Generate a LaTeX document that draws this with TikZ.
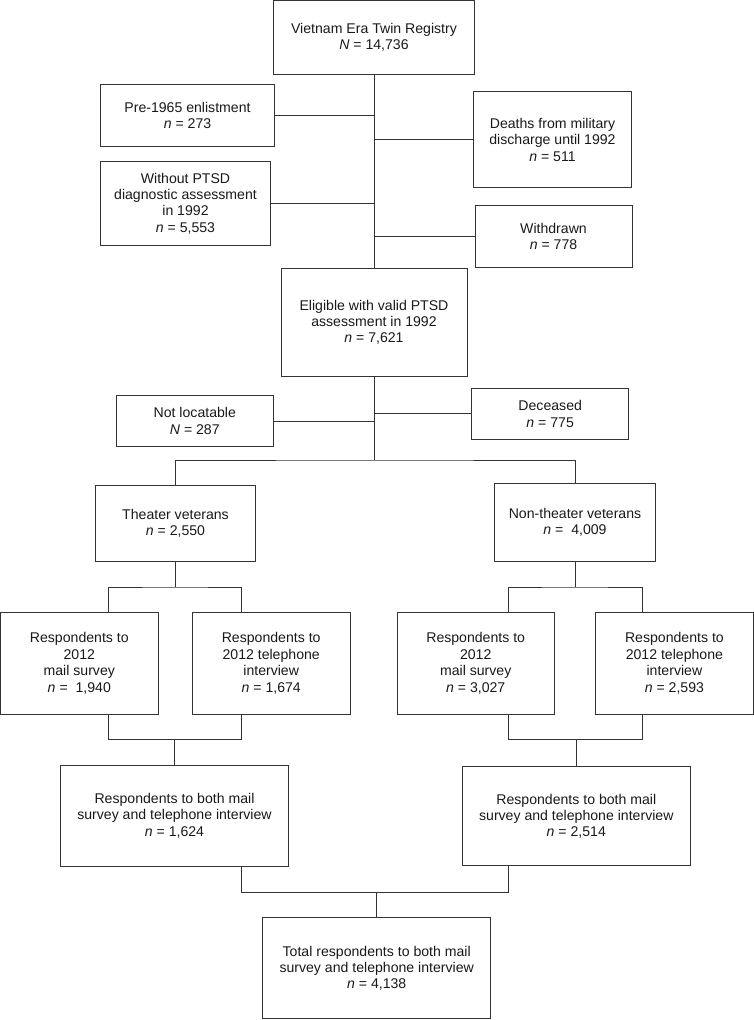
\documentclass[tikz,border=0pt]{standalone}
\usepackage{fontspec}
\setmainfont{Liberation Sans}
\usepackage{xcolor}
\usepackage{tikz}
\usetikzlibrary{positioning}

\begin{document}
\begin{tikzpicture}[x=1pt, y=-1pt,
    box/.style={draw=black!80, line width=1pt, rectangle, align=center, inner sep=0pt,
        font=\fontsize{14.1}{16.4}\selectfont, text=black!90},
    link/.style={draw=black!80, line width=1pt}]
    \useasboundingbox (0,0) rectangle (754,1020);

    % registry and exclusions
    \node[box, minimum width=200.7pt, minimum height=73.5pt] (registry) at (374,37.3) {Vietnam Era Twin Registry\\\textit{N} = 14,736};
    \node[box, minimum width=174.6pt, minimum height=62.6pt] (preenl) at (187.5,115.3) {Pre-1965 enlistment\\\textit{n} = 273};
    \node[box, minimum width=157.8pt, minimum height=96.3pt] (deaths) at (552.5,139.8) {Deaths from military\\discharge until 1992\\\textit{n} = 511};
    \node[box, minimum width=170.4pt, minimum height=83.6pt] (noptsd) at (185.5,203.5) {Without PTSD\\diagnostic assessment\\in 1992\\\textit{n} = 5,553};
    \node[box, minimum width=157pt, minimum height=62.3pt] (withdrawn) at (553.5,236.3) {Withdrawn\\\textit{n} = 778};
    \node[box, minimum width=186pt, minimum height=108pt] (eligible) at (374,322.3) {Eligible with valid PTSD\\assessment in 1992\\\textit{n} = 7,621};
    \node[box, minimum width=157.6pt, minimum height=51.4pt] (notloc) at (194.8,421) {Not locatable\\\textit{N} = 287};
    \node[box, minimum width=156.8pt, minimum height=51.3pt] (deceased) at (550.2,413.8) {Deceased\\\textit{n} = 775};

    % theater groups
    \node[box, minimum width=160.6pt, minimum height=76.4pt] (theater) at (175.5,523.5) {Theater veterans\\\textit{n} = 2,550};
    \node[box, minimum width=161pt, minimum height=78.4pt] (nontheater) at (575,522.5) {Non-theater veterans\\\textit{n} = \ 4,009};

    % respondents
    \node[box, minimum width=157.5pt, minimum height=102pt] (mailth) at (79.3,663.3) {Respondents to\\2012\\mail survey\\\textit{n} = \ 1,940};
    \node[box, minimum width=157.7pt, minimum height=102pt] (phoneth) at (271.2,663.3) {Respondents to\\2012 telephone\\interview\\\textit{n} = 1,674};
    \node[box, minimum width=157.3pt, minimum height=102pt] (mailnon) at (475.7,663.3) {Respondents to\\2012\\mail survey\\\textit{n} = 3,027};
    \node[box, minimum width=157.3pt, minimum height=102pt] (phonenon) at (674.4,663.3) {Respondents to\\2012 telephone\\interview\\\textit{n} = 2,593};
    \node[box, minimum width=228.4pt, minimum height=101pt] (bothth) at (174.5,815.5) {Respondents to both mail\\survey and telephone interview\\\textit{n} = 1,624};
    \node[box, minimum width=227.6pt, minimum height=99.3pt] (bothnon) at (576.3,816.3) {Respondents to both mail\\survey and telephone interview\\\textit{n} = 2,514};
    \node[box, minimum width=228pt, minimum height=101pt] (total) at (376.7,968.2) {Total respondents to both mail\\survey and telephone interview\\\textit{n} = 4,138};

    % junction points
    \coordinate (split) at (374,460);
    \coordinate (thfork) at (175.5,587);
    \coordinate (nonfork) at (575,587);
    \coordinate (thjoin) at (174.5,739.3);
    \coordinate (nonjoin) at (576.3,739.3);
    \coordinate (totfork) at (376.7,892);
    \coordinate (xa) at (108,0);
    \coordinate (xb) at (241.7,0);
    \coordinate (xc) at (508.3,0);
    \coordinate (xd) at (642,0);

    \draw[link] (registry) -- (eligible);
    \draw[link] (preenl) -- (preenl -| registry);
    \draw[link] (deaths) -- (deaths -| registry);
    \draw[link] (noptsd) -- (noptsd -| registry);
    \draw[link] (withdrawn) -- (withdrawn -| registry);

    \draw[link] (eligible) -- (split);
    \draw[link] (notloc) -- (notloc -| eligible);
    \draw[link] (deceased) -- (deceased -| eligible);
    \draw[link] (theater) |- (split) -| (nontheater);

    \draw[link] (theater) -- (thfork);
    \draw[link] (xa |- mailth.north) |- (thfork) -| (xb |- phoneth.north);
    \draw[link] (nontheater) -- (nonfork);
    \draw[link] (xc |- mailnon.north) |- (nonfork) -| (xd |- phonenon.north);

    \draw[link] (xa |- mailth.south) |- (thjoin) -| (xb |- phoneth.south);
    \draw[link] (thjoin) -- (bothth);
    \draw[link] (xc |- mailnon.south) |- (nonjoin) -| (xd |- phonenon.south);
    \draw[link] (nonjoin) -- (bothnon);

    \draw[link] (xb |- bothth.south) |- (totfork) -| (xc |- bothnon.south);
    \draw[link] (totfork) -- (total);
\end{tikzpicture}
\end{document}
